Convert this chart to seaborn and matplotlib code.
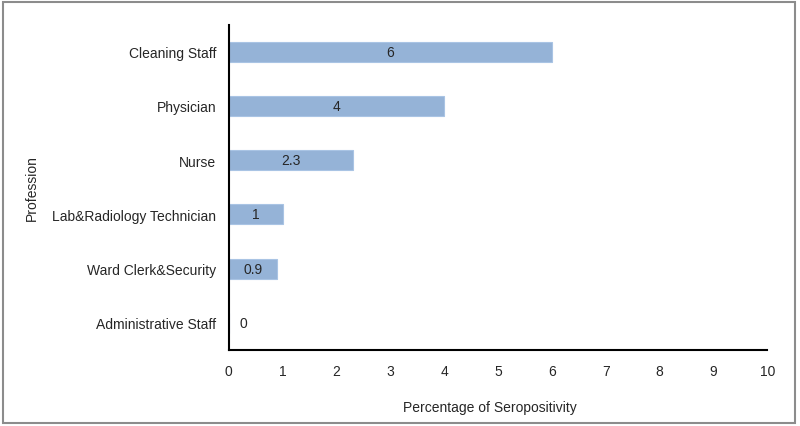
#!/usr/bin/env python3

import matplotlib
matplotlib.use("Agg")
import matplotlib.pyplot as plt
from matplotlib.patches import Rectangle
import pandas as pd
import seaborn as sns

# Seropositivity by profession (%)
professions = [
    "Cleaning Staff",
    "Physician",
    "Nurse",
    "Lab&Radiology Technician",
    "Ward Clerk&Security",
    "Administrative Staff",
]
seropositivity = [6, 4, 2.3, 1, 0.9, 0]
value_labels = ["6", "4", "2.3", "1", "0.9", "0"]

sns.set_theme(style="white")
plt.rcParams["font.family"] = ["Liberation Sans", "DejaVu Sans"]

df = pd.DataFrame({"profession": professions, "value": seropositivity})

fig = plt.figure(figsize=(8, 4.27), dpi=100)
ax = fig.add_axes([0.286, 0.178, 0.673, 0.762])

sns.barplot(
    data=df,
    x="value",
    y="profession",
    order=professions,
    color="#95b3d7",
    edgecolor="#a9c4e4",
    linewidth=0.8,
    width=0.37,
    saturation=1,
    ax=ax,
)

# value labels centered in bars (zero label nudged off the axis)
for i, (v, lab) in enumerate(zip(seropositivity, value_labels)):
    ax.text(max(v / 2, 0.27), i, lab, ha="center", va="center",
            fontsize=10, color="#262626")

ax.set_xlim(0, 10)
ax.set_ylim(5.5, -0.5)
ax.set_xticks(range(0, 11))
ax.tick_params(axis="both", length=0, labelsize=10, colors="#262626", pad=10)
ax.tick_params(axis="y", pad=9)
ax.set_xlabel("Percentage of Seropositivity", fontsize=10, color="#262626")
ax.xaxis.set_label_coords(0.484, -0.155)
ax.set_ylabel("Profession", fontsize=10, color="#262626", labelpad=10)

for side in ["top", "right"]:
    ax.spines[side].set_visible(False)
for side in ["left", "bottom"]:
    ax.spines[side].set_color("black")
    ax.spines[side].set_linewidth(1.5)

# gray frame around whole chart
fig.patches.append(Rectangle((0.004, 0.008), 0.99, 0.985, transform=fig.transFigure,
                             fill=False, edgecolor="#8c8c8c", linewidth=1.5))

fig.savefig("out.png", dpi=100)
